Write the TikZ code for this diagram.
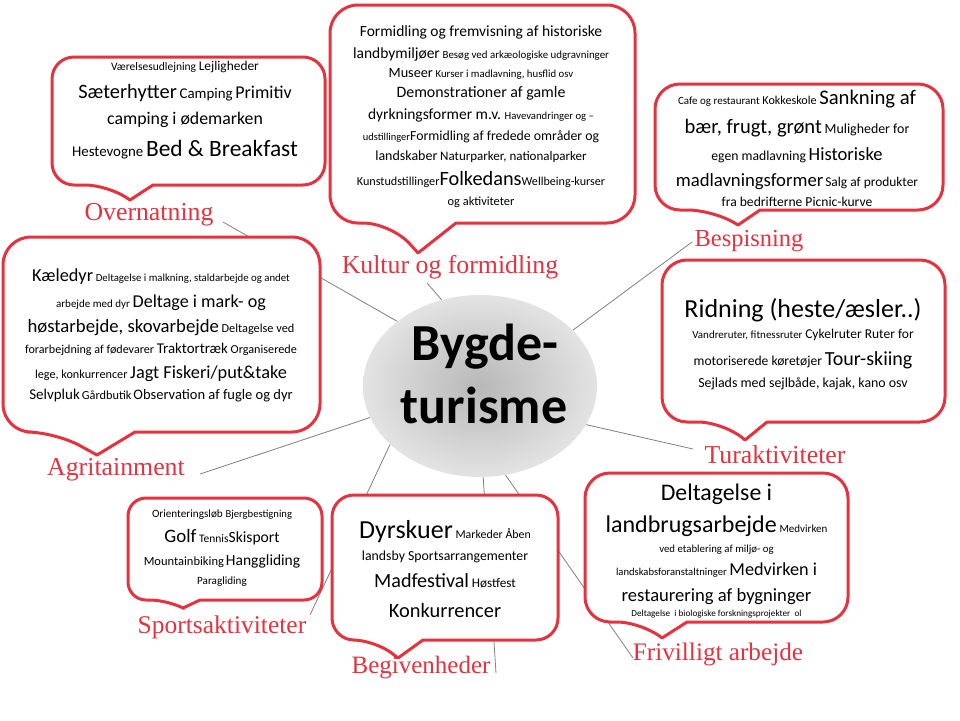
\documentclass[tikz,border=0pt]{standalone}
\usepackage{fontspec}
\newfontfamily\bodyfont{Carlito}
\newfontfamily\catfont{Liberation Serif}
\usetikzlibrary{shapes.geometric}
\definecolor{calred}{RGB}{229,50,62}
\definecolor{connline}{RGB}{128,128,128}
\newcommand\fsz[1]{\fontsize{#1pt}{#1pt}\selectfont}
\newcommand\callout[9]{%
  \draw[callout] (#6,#4) [rounded corners=#9pt] -- (#3,#4) -- (#3,#2) -- (#1,#2) -- (#1,#4) -- (#5,#4) [sharp corners] -- (#7,#8) -- cycle;}
\begin{document}
\begin{tikzpicture}[x=1pt,y=-1pt,
  callout/.style={draw=calred, line width=3pt, fill=white, line join=round},
  conn/.style={draw=connline, line width=0.8pt},
  wline/.style={anchor=base, inner sep=0pt, font=\bodyfont\fsz{12}},
  cat/.style={anchor=base, inner sep=0pt, text=calred, font=\catfont\fsz{25.8}},
  hubtext/.style={anchor=base, inner sep=0pt, font=\bodyfont\bfseries\fsz{52}},
]
\useasboundingbox (0,0) rectangle (960,720);
\fill[white] (0,0) rectangle (960,720);

% central hub
\node[ellipse, minimum width=234pt, minimum height=182pt, inner sep=0pt,
      shading=radial, inner color=black!28, outer color=black!11] (hub) at (480,386) {};

% free ends of connectors
\coordinate (eO) at (223,222);
\coordinate (eK) at (427,283);
\coordinate (eB) at (692,242);
\coordinate (eT) at (693,449);
\coordinate (eA) at (200,474);
\coordinate (eS) at (310,615);
\coordinate (eG) at (496,673);
\coordinate (eF) at (633,658);

\draw[conn] (hub.142.4) -- (eO);
\draw[conn] (hub.114.9) -- (eK);
\draw[conn] (hub.31.9) -- (eB);
\draw[conn] (hub.-20) -- (eT);
\draw[conn] (hub.196.2) -- (eA);
\draw[conn] (hub.213.2) -- (eS);
\draw[conn] (hub.-88.7) -- (eG);
\draw[conn] (hub.-74.3) -- (eF);

% callout boxes
\callout{52}{57}{325}{185}{107}{153}{130}{200}{22}
\callout{330}{5}{635}{223}{391}{456}{418}{253}{28}
\callout{655}{84}{943}{210}{713}{760}{738}{225}{25}
\callout{3}{237}{320}{432}{55}{135}{97}{455}{28}
\callout{662}{260}{945}{422}{723}{767}{745}{440}{25}
\callout{128}{498}{322}{600}{168}{200}{183}{608}{18}
\callout{332}{495}{558}{640}{375}{423}{398}{658}{22}
\callout{585}{473}{848}{622}{642}{687}{662}{638}{25}

% hub text
\node[hubtext] (h1) at (485,360) {Bygde-};
\node[hubtext] (h2) at (484,423) {turisme};

% category labels
\node[cat] (lO) at (149,220) {Overnatning};
\node[cat] (lK) at (450,273) {Kultur og formidling};
\node[cat, font=\catfont\fsz{24.5}] (lB) at (749,246) {Bespisning};
\node[cat] (lA) at (116,475) {Agritainment};
\node[cat] (lT) at (775,463) {Turaktiviteter};
\node[cat, font=\catfont\fsz{25.5}] (lS) at (222,633) {Sportsaktiviteter};
\node[cat, font=\catfont\fsz{25}] (lG) at (421,673) {Begivenheder};
\node[cat, font=\catfont\fsz{25.2}] (lF) at (718,660) {Frivilligt arbejde};

% Overnatning
\node[wline] (o1) at (185,70.7) {{\fsz{11.5}Værelsesudlejning} {\fsz{13.4}Lejligheder}};
\node[wline] (o2) at (185,98) {{\fsz{20.4}Sæterhytter} {\fsz{14.9}Camping} {\fsz{18}Primitiv}};
\node[wline] (o3) at (185,124) {\fsz{17.8}camping i ødemarken};
\node[wline] (o4) at (185,156) {{\fsz{14.9}Hestevogne} {\fsz{23.4}Bed \& Breakfast}};

% Kultur og formidling
\node[wline] (k1) at (481,36.7) {\fsz{15.5}Formidling og fremvisning af historiske};
\node[wline] (k2) at (481,58) {{\fsz{15.5}landbymiljøer} {\fsz{10.9}Besøg ved arkæologiske udgravninger}};
\node[wline] (k3) at (481,77) {{\fsz{14.2}Museer} {\fsz{10.8}Kurser i madlavning, husflid osv}};
\node[wline] (k4) at (481,97) {\fsz{15.9}Demonstrationer af gamle};
\node[wline] (k5) at (481,119) {{\fsz{15.5}dyrkningsformer m.v.} {\fsz{10.7}Havevandringer og –}};
\node[wline] (k6) at (481,140) {{\fsz{10.5}udstillinger}{\fsz{13.8}Formidling af fredede områder og}};
\node[wline] (k7) at (481,160) {{\fsz{14}landskaber} {\fsz{13}Naturparker, nationalparker}};
\node[wline] (k8) at (481,185) {{\fsz{12.2}Kunstudstillinger}{\fsz{20.3}Folkedans}{\fsz{12.1}Wellbeing-kurser}};
\node[wline] (k9) at (481,205) {\fsz{12.4}og aktiviteter};

% Bespisning
\node[wline] (b1) at (797,104) {{\fsz{11}Cafe og restaurant} {\fsz{12.1}Kokkeskole} {\fsz{20.7}Sankning af}};
\node[wline] (b2) at (797,133) {{\fsz{20.6}bær, frugt, grønt} {\fsz{13.9}Muligheder for}};
\node[wline] (b3) at (797,160) {{\fsz{13.7}egen madlavning} {\fsz{18.6}Historiske}};
\node[wline] (b4) at (797,186) {{\fsz{18.7}madlavningsformer}\,{\fsz{13.4}Salg af produkter}};
\node[wline] (b5) at (797,206) {\fsz{13.6}fra bedrifterne Picnic-kurve};

% Agritainment
\node[wline] (a1) at (161,281) {{\fsz{18.3}Kæledyr} {\fsz{10.8}Deltagelse i malkning, staldarbejde og andet}};
\node[wline] (a2) at (161,307) {{\fsz{11}arbejde med dyr} {\fsz{18.1}Deltage i mark- og}};
\node[wline] (a3) at (161,332) {{\fsz{18.7}høstarbejde, skovarbejde} {\fsz{12.3}Deltagelse ved}};
\node[wline] (a4) at (161,353) {{\fsz{12.1}forarbejdning af fødevarer} {\fsz{14.9}Traktortræk} {\fsz{12.2}Organiserede}};
\node[wline] (a5) at (161,378) {{\fsz{12.2}lege, konkurrencer} {\fsz{18.3}Jagt Fiskeri/put\&take}};
\node[wline] (a6) at (161,399) {{\fsz{15}Selvpluk}\,{\fsz{12.3}Gårdbutik}\,{\fsz{14.5}Observation af fugle og dyr}};

% Turaktiviteter
\node[wline] (t1) at (803,317) {\fsz{26}Ridning (heste/æsler..)};
\node[wline] (t2) at (803,338) {{\fsz{11}Vandreruter, fitnessruter} {\fsz{13.5}Cykelruter Ruter for}};
\node[wline] (t3) at (803,365) {{\fsz{13.6}motoriserede køretøjer} {\fsz{20}Tour-skiing}};
\node[wline] (t4) at (803,387) {\fsz{13.9}Sejlads med sejlbåde, kajak, kano osv};

% Sportsaktiviteter
\node[wline] (s1) at (222,517) {{\fsz{11.2}Orienteringsløb} {\fsz{10.6}Bjergbestigning}};
\node[wline] (s2) at (222,542) {{\fsz{18.9}Golf} {\fsz{11.5}Tennis}{\fsz{15.6}Skisport}};
\node[wline] (s3) at (222,565) {{\fsz{12.5}Mountainbiking}\,{\fsz{15.5}Hanggliding}};
\node[wline] (s4) at (222,584) {\fsz{11.1}Paragliding};

% Begivenheder
\node[wline] (g1) at (445,538) {{\fsz{26}Dyrskuer} {\fsz{11.9}Markeder Åben}};
\node[wline] (g2) at (445,560) {\fsz{13.8}landsby Sportsarrangementer};
\node[wline] (g3) at (445,587) {{\fsz{20.1}Madfestival} {\fsz{13.2}Høstfest}};
\node[wline] (g4) at (445,617) {\fsz{20.4}Konkurrencer};

% Frivilligt arbejde
\node[wline] (f1) at (716.5,500) {\fsz{23.8}Deltagelse i};
\node[wline] (f2) at (716.5,532) {{\fsz{24}landbrugsarbejde} {\fsz{11}Medvirken}};
\node[wline] (f3) at (716.5,552) {\fsz{10.8}ved etablering af miljø- og};
\node[wline] (f4) at (716.5,575) {{\fsz{10.6}landskabsforanstaltninger} {\fsz{18.2}Medvirken i}};
\node[wline] (f5) at (716.5,601) {\fsz{18.6}restaurering af bygninger};
\node[wline] (f6) at (716.5,616) {\fsz{9.2}Deltagelse\ \ i biologiske forskningsprojekter\ \ ol};
\end{tikzpicture}
\end{document}
